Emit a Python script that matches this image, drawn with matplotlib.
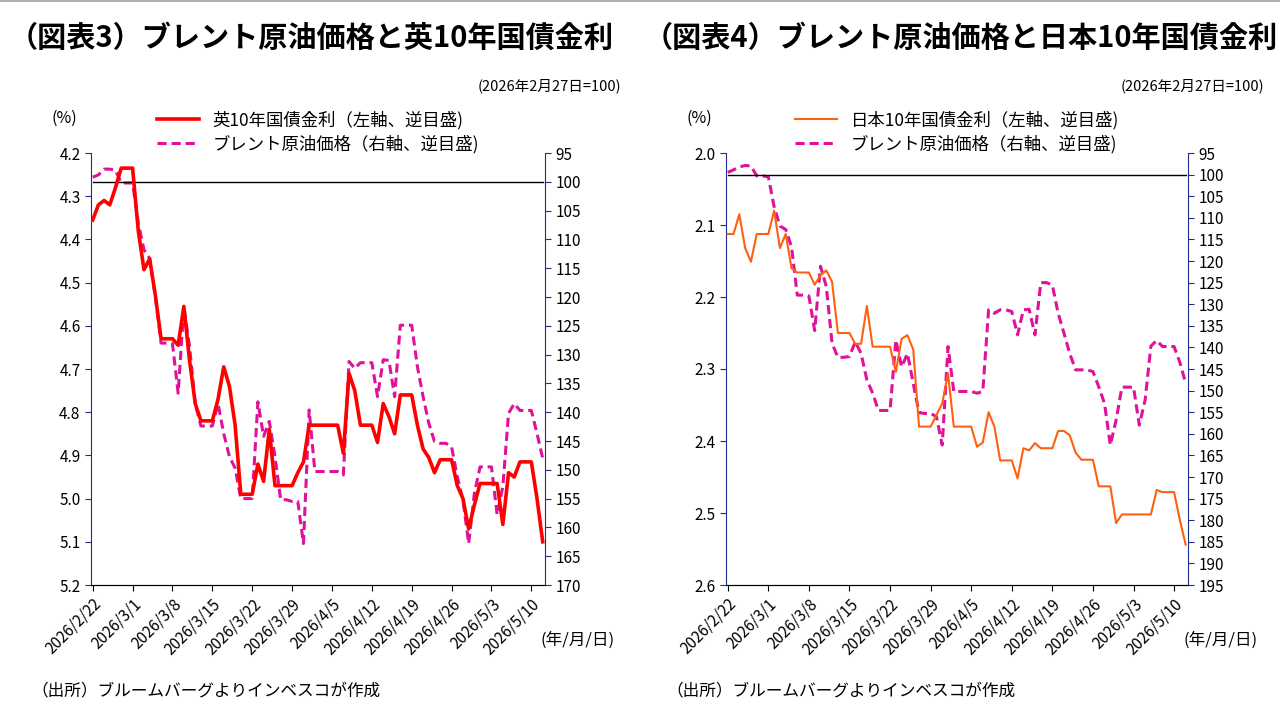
import matplotlib
matplotlib.use("Agg")
import matplotlib.pyplot as plt
import pandas as pd

plt.rcParams['font.family'] = ['Noto Sans CJK JP', 'DejaVu Sans']

dates = pd.date_range("2026-02-22", "2026-05-12", freq="D")

uk_yield = [4.355,4.32,4.31,4.32,4.28,4.235,4.235,4.235,4.38,4.47,4.445,4.53,4.63,4.63,4.63,4.645,4.555,4.68,4.78,4.82,
            4.82,4.82,4.77,4.695,4.74,4.83,4.99,4.99,4.99,4.92,4.96,4.84,4.97,4.97,4.97,4.97,4.94,4.915,4.83,4.83,
            4.83,4.83,4.83,4.83,4.895,4.71,4.75,4.83,4.83,4.83,4.87,4.78,4.81,4.85,4.76,4.76,4.76,4.83,4.885,4.905,
            4.94,4.91,4.91,4.91,4.97,5.00,5.07,5.015,4.965,4.965,4.965,4.965,5.06,4.94,4.95,4.915,4.915,4.915,5.0,5.1]
brent_l = [99.2,98.8,97.8,97.8,98.0,100.2,100.2,100.2,107.2,111.8,113.3,120.0,128.0,128.0,128.1,136.7,121.7,128.6,138.5,142.4,
           142.4,142.4,138.5,143.7,147.7,149.7,155.0,155.0,155.0,138.2,144.2,141.6,147.7,155.2,155.2,155.5,155.5,162.8,139.6,150.3,
           150.3,150.3,150.3,150.3,150.9,131.2,132.4,131.4,131.4,131.4,137.3,130.9,131.0,137.3,124.9,124.9,124.9,132.1,137.3,141.9,
           145.1,145.4,145.4,146.0,151.2,155.2,162.8,154.1,149.5,149.5,149.5,157.8,152.9,140.2,138.5,139.7,139.7,139.7,143.7,148.0]
jgb_yield = [2.1125,2.1125,2.085,2.132,2.151,2.1125,2.1125,2.1125,2.08,2.132,2.1125,2.16,2.166,2.166,2.166,2.183,2.17,2.163,2.179,2.25,
             2.25,2.25,2.265,2.265,2.2125,2.269,2.269,2.269,2.269,2.304,2.258,2.253,2.273,2.38,2.38,2.38,2.364,2.348,2.306,2.38,
             2.38,2.38,2.38,2.408,2.402,2.36,2.38,2.427,2.427,2.427,2.452,2.41,2.413,2.403,2.41,2.41,2.41,2.386,2.386,2.392,
             2.416,2.426,2.426,2.426,2.463,2.463,2.463,2.514,2.502,2.502,2.502,2.502,2.502,2.502,2.468,2.471,2.471,2.471,2.51,2.544]
brent_r = [99.5,98.9,98.2,97.9,98.0,100.3,100.3,100.5,107.4,111.9,112.7,116.7,127.9,127.9,128.1,136.1,121.2,125.9,139.1,142.3,
           142.3,142.1,138.7,141.4,147.5,150.6,154.6,154.6,154.6,138.3,144.5,141.4,148.3,155.1,155.3,155.3,156.0,162.6,139.8,150.2,
           150.2,150.2,150.2,150.6,150.2,131.3,132.1,131.3,131.3,131.7,137.1,131.3,131.2,137.1,125.0,125.0,125.6,132.1,136.7,141.4,
           145.2,145.2,145.2,145.6,149.1,153.0,162.6,156.8,149.2,149.2,149.2,158.0,152.2,139.7,138.4,139.8,139.8,139.8,143.5,148.3]

tick_idx = list(range(0, 78, 7))
tick_labels = [f"{d.year}/{d.month}/{d.day}" for d in dates[tick_idx]]
x = list(range(len(dates)))

fig = plt.figure(figsize=(12.8, 7.2), dpi=100)
fig.add_artist(plt.Line2D([0, 1], [0.999, 0.999], color='#a0a0a0', lw=1.2))

navy = '#1f2f8f'

def panel(left_px, width_px, y, b, ylims, yticks, rticks, rlims, ycol, ylab, blab, title, ylw):
    ax = fig.add_axes([left_px/1280, 1-585/720, width_px/1280, 432/720])
    ax2 = ax.twinx()
    ax.plot(x, y, color=ycol, lw=ylw, label=ylab, zorder=3)
    ax2.plot(x, b, color='#e0119a', lw=2.2, ls=(0, (3, 1.6)), label=blab)
    ax2.axhline(100, color='black', lw=1, xmin=0.005, xmax=0.995)
    ax.set_ylim(*ylims)
    ax.set_yticks(yticks)
    ax.set_yticklabels([f"{v:.1f}" for v in yticks])
    ax2.set_ylim(*rlims)
    ax2.set_yticks(rticks)
    ax.set_xlim(-0.3, 79.4)
    ax.set_xticks(tick_idx)
    ax.set_xticklabels(tick_labels, rotation=45, ha='right', rotation_mode='anchor')
    ax.set_zorder(ax2.get_zorder() + 1)
    ax.patch.set_visible(False)
    for a in (ax, ax2):
        a.spines['top'].set_visible(False)
        a.spines['left'].set_color(navy)
        a.spines['right'].set_color(navy)
        a.spines['bottom'].set_color('black')
        a.tick_params(labelsize=11, length=4, direction='out', color=navy)
    ax.tick_params(axis='x', color='black')
    ax2.spines['left'].set_visible(False)
    ax.spines['right'].set_visible(False)
    h1, l1 = ax.get_legend_handles_labels()
    h2, l2 = ax2.get_legend_handles_labels()
    fig.legend(h1 + h2, l1 + l2, loc='center', bbox_to_anchor=((left_px + width_px/2)/1280, 1-132/720),
               frameon=False, fontsize=12.5, handlelength=2.4, labelspacing=0.3, borderpad=0)
    fig.text((left_px - 27)/1280, 1-118/720, "(%)", fontsize=11.5, ha='center', va='center')
    fig.text((left_px + width_px + 76)/1280, 1-86/720, "(2026年2月27日=100)", fontsize=10.5, ha='right', va='center')
    fig.text((left_px + width_px + 70)/1280, 1-640/720, "(年/月/日)", fontsize=12, ha='right', va='center')
    fig.text((left_px - 60)/1280, 1-692/720, "（出所）ブルームバーグよりインベスコが作成", fontsize=12, ha='left', va='center')
    fig.text((left_px - 82)/1280, 1-38/720, title, fontsize=21, fontweight='bold', ha='left', va='center')

panel(91, 454, uk_yield, brent_l, (5.2, 4.2), [4.2 + 0.1*i for i in range(11)],
      list(range(95, 171, 5)), (170, 95), '#ff0000',
      "英10年国債金利（左軸、逆目盛)", "ブレント原油価格（右軸、逆目盛)",
      "（図表3）ブレント原油価格と英10年国債金利", 2.6)
panel(726, 462, jgb_yield, brent_r, (2.6, 2.0), [2.0 + 0.1*i for i in range(7)],
      list(range(95, 196, 5)), (195, 95), '#ff6010',
      "日本10年国債金利（左軸、逆目盛)", "ブレント原油価格（右軸、逆目盛)",
      "（図表4）ブレント原油価格と日本10年国債金利", 1.5)

fig.savefig("out.png", dpi=100)
